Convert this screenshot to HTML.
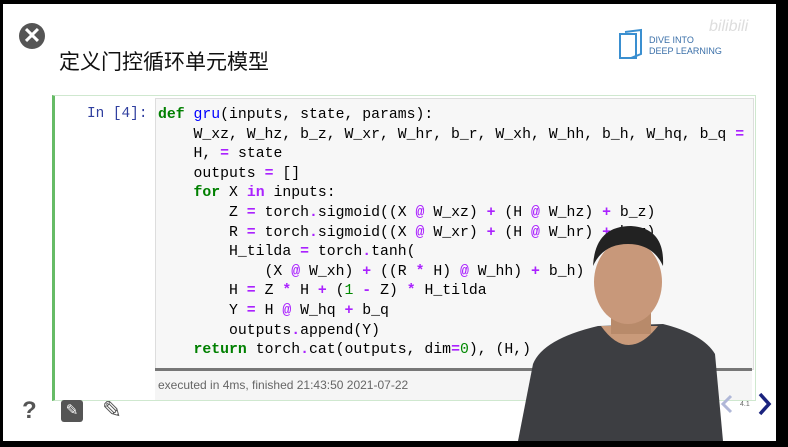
<!DOCTYPE html>
<html><head><meta charset="utf-8"><style>
body{margin:0;width:788px;height:447px;overflow:hidden;background:#000;position:relative;font-family:"Liberation Sans","Noto Sans CJK SC",sans-serif}
#s{position:absolute;left:3px;top:4px;width:773px;height:437px;background:#fff;overflow:hidden}
.a{position:absolute}
pre{margin:0;font-family:"Liberation Mono",monospace;font-size:14.8px;line-height:19.6px;color:#000}
.k{color:#008000;font-weight:bold}.f{color:#0000ff}.o{color:#aa22ff;font-weight:bold}.n{color:#080}
</style></head><body>
<div id="s">
<div class="a" style="left:16px;top:19px;width:26px;height:26px;border-radius:50%;background:#555;color:#fff;font-size:22px;font-weight:bold;line-height:26px;text-align:center">✕</div>
<div class="a" style="left:56px;top:42px;font-size:21px;color:#111">定义门控循环单元模型</div>
<svg class="a" style="left:614px;top:24px" width="30" height="34"><rect x="3" y="6" width="16" height="24" fill="none" stroke="#3a8fd0" stroke-width="2"/><path d="M8 4 L24 2 L24 26 L14 30" fill="none" stroke="#3a8fd0" stroke-width="2"/></svg>
<div class="a" style="left:646px;top:31px;font-size:9px;color:#3a6fa8;line-height:11px">DIVE INTO<br>DEEP LEARNING</div>
<div class="a" style="left:706px;top:14px;font-size:16px;color:#ddd;font-style:italic">bilibili</div>
<div class="a" style="left:49px;top:91px;width:700px;height:304px;border:1px solid #cfe8cf;border-left:3px solid #66bb66"></div>
<div class="a" style="left:84px;top:102px;font-family:'Liberation Mono',monospace;font-size:14.4px;color:#303f9f">In [4]:</div>
<div class="a" style="left:152px;top:94px;width:597px;height:270px;background:#f7f7f7;border:1px solid #ddd"></div>
<pre class="a" style="left:155px;top:102px"><span class="k">def</span> <span class="f">gru</span>(inputs, state, params):
    W_xz, W_hz, b_z, W_xr, W_hr, b_r, W_xh, W_hh, b_h, W_hq, b_q <span class="o">=</span>
    H, <span class="o">=</span> state
    outputs <span class="o">=</span> []
    <span class="k">for</span> X <span class="o">in</span> inputs:
        Z <span class="o">=</span> torch<span class="o">.</span>sigmoid((X <span class="o">@</span> W_xz) <span class="o">+</span> (H <span class="o">@</span> W_hz) <span class="o">+</span> b_z)
        R <span class="o">=</span> torch<span class="o">.</span>sigmoid((X <span class="o">@</span> W_xr) <span class="o">+</span> (H <span class="o">@</span> W_hr) <span class="o">+</span> b_r)
        H_tilda <span class="o">=</span> torch<span class="o">.</span>tanh(
            (X <span class="o">@</span> W_xh) <span class="o">+</span> ((R <span class="o">*</span> H) <span class="o">@</span> W_hh) <span class="o">+</span> b_h)
        H <span class="o">=</span> Z <span class="o">*</span> H <span class="o">+</span> (<span class="n">1</span> <span class="o">-</span> Z) <span class="o">*</span> H_tilda
        Y <span class="o">=</span> H <span class="o">@</span> W_hq <span class="o">+</span> b_q
        outputs<span class="o">.</span>append(Y)
    <span class="k">return</span> torch<span class="o">.</span>cat(outputs, dim<span class="o">=</span><span class="n">0</span>), (H,)</pre>
<div class="a" style="left:152px;top:364px;width:597px;height:29px;background:#f5f5f5;border-top:3px solid #777"></div>
<div class="a" style="left:155px;top:374px;font-size:12px;color:#666">executed in 4ms, finished 21:43:50 2021-07-22</div>
<div class="a" style="left:19px;top:393px;font-size:24px;font-weight:bold;color:#555">?</div>
<div class="a" style="left:58px;top:396px;width:22px;height:22px;background:#555;border-radius:3px;color:#fff;font-size:15px;text-align:center;line-height:22px">✎</div>
<div class="a" style="left:99px;top:392px;font-size:24px;color:#555">✎</div>
<svg class="a" style="left:0;top:0" width="773" height="437">
<path d="M515 437 L530 360 Q540 335 595 322 L660 320 Q700 330 712 350 L720 437 Z" fill="#3d3e42"/>
<path d="M598 322 Q625 360 655 322 Z" fill="#c99a7a"/>
<rect x="608" y="300" width="40" height="30" fill="#b88a6a"/>
<ellipse cx="625" cy="278" rx="34" ry="42" fill="#c8987a"/>
<path d="M590 262 Q592 222 628 222 Q662 224 660 262 Q650 240 625 240 Q600 240 590 262Z" fill="#222"/>
<path d="M728 392 L720 400 L728 408" fill="none" stroke="#b0b8d8" stroke-width="3"/>
<path d="M757 390 L766 400 L757 410" fill="none" stroke="#1a237e" stroke-width="3.5"/>
</svg>
<div class="a" style="left:737px;top:397px;font-size:7px;color:#666">4.1</div>
</div>
</body></html>
